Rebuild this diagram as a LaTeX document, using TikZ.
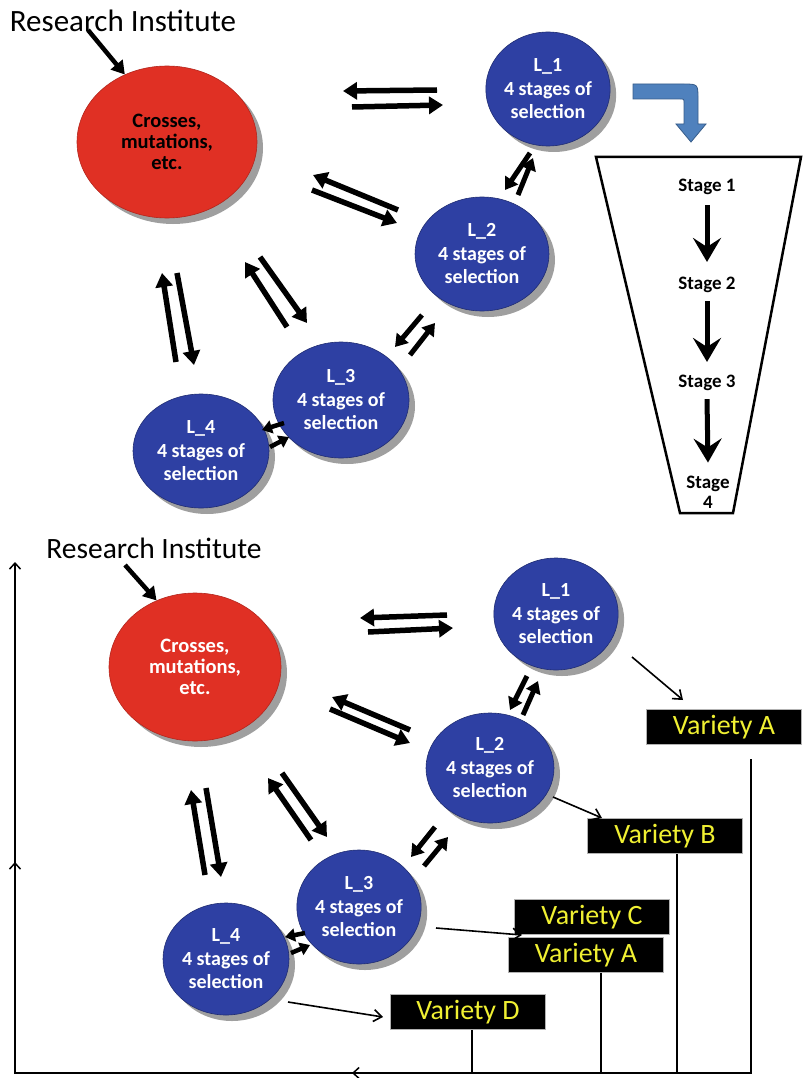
\documentclass[tikz,border=0pt]{standalone}
\usepackage{fontspec}
\setmainfont{Carlito}
\usetikzlibrary{arrows.meta,shapes.geometric,shadows}
\definecolor{redc}{RGB}{224,48,36}
\definecolor{bluec}{RGB}{46,64,163}
\definecolor{arrowblue}{RGB}{79,129,189}
\definecolor{arrowblueline}{RGB}{56,93,138}
\definecolor{yellowc}{RGB}{240,240,50}
\begin{document}
\begin{tikzpicture}[x=1pt,y=-1pt,
  circ/.style={ellipse, inner sep=0pt, align=center,
    drop shadow={shadow xshift=6pt,shadow yshift=-6pt,fill=gray!75,opacity=1}},
  bluecirc/.style={circ, fill=bluec, draw=bluec!70!black, line width=0.6pt, text=white,
    font=\bfseries\fontsize{20}{23.5}\selectfont},
  redcirc/.style={circ, fill=redc, draw=redc!80!black, line width=0.6pt,
    font=\bfseries\fontsize{20.5}{21}\selectfont},
  bigarrow/.style={line width=5.5pt, -{Triangle[length=14pt,width=17pt]}},
  smallarrow/.style={line width=5pt, -{Triangle[length=12pt,width=15pt]}},
  tinyarrow/.style={line width=4.5pt, -{Triangle[length=10pt,width=13pt]}},
  thinarrow/.style={line width=1.6pt, -{Straight Barb[length=8pt,width=12pt]}},
  axisline/.style={line width=1.5pt},
  axisarrow/.style={line width=1.5pt, -{Straight Barb[length=6pt,width=11pt]}},
  stagearrow/.style={line width=5pt, -{Stealth[length=24pt,width=28pt,inset=9pt]}},
  stagelabel/.style={font=\bfseries\fontsize{19}{20}\selectfont, align=center, inner sep=0pt},
  title/.style={inner sep=0pt, anchor=base},
  varbox/.style={fill=black, text=yellowc, font=\fontsize{28}{28}\selectfont,
    minimum width=155pt, minimum height=35pt, inner sep=0pt, draw=gray!60, line width=0.5pt}
]
\useasboundingbox (0,0) rectangle (803,1078);

% ================= TOP HALF =================
\node[title, font=\fontsize{31}{31}\selectfont] (rit) at (123,32) {Research Institute};
\node[redcirc, minimum width=180pt, minimum height=152pt] (redt) at (167,142) {Crosses,\\mutations,\\etc.};
\node[bluecirc, minimum width=124pt, minimum height=114pt] (l1t) at (548,89) {L\_1\\4 stages of\\selection};
\node[bluecirc, minimum width=134pt, minimum height=114pt] (l2t) at (482,254) {L\_2\\4 stages of\\selection};
\node[bluecirc, minimum width=136pt, minimum height=116pt] (l3t) at (341,400) {L\_3\\4 stages of\\selection};
\node[bluecirc, minimum width=136pt, minimum height=114pt] (l4t) at (201,451) {L\_4\\4 stages of\\selection};

\coordinate (rta) at (88,30);
\draw[line width=4.5pt, -{Triangle[length=13pt,width=15pt]}] (rta) -- (redt.122);

% pair arrows top
\coordinate (ta1) at (437,90);  \coordinate (ta2) at (343,91);
\coordinate (ta3) at (352,107); \coordinate (ta4) at (443,105);
\draw[bigarrow] (ta1) -- (ta2); \draw[bigarrow] (ta3) -- (ta4);
\coordinate (tb1) at (398,210); \coordinate (tb2) at (313,175);
\coordinate (tb3) at (312,190); \coordinate (tb4) at (397,223);
\draw[bigarrow] (tb1) -- (tb2); \draw[bigarrow] (tb3) -- (tb4);
\coordinate (tc1) at (530,153); \coordinate (tc2) at (505,190);
\coordinate (tc3) at (518,195); \coordinate (tc4) at (533,158);
\draw[smallarrow] (tc1) -- (tc2); \draw[smallarrow] (tc3) -- (tc4);
\coordinate (td1) at (422,315); \coordinate (td2) at (395,347);
\coordinate (td3) at (410,355); \coordinate (td4) at (435,323);
\draw[smallarrow] (td1) -- (td2); \draw[smallarrow] (td3) -- (td4);
\coordinate (te1) at (176,362); \coordinate (te2) at (162,273);
\coordinate (te3) at (177,273); \coordinate (te4) at (194,365);
\draw[bigarrow] (te1) -- (te2); \draw[bigarrow] (te3) -- (te4);
\coordinate (tf1) at (287,327); \coordinate (tf2) at (245,262);
\coordinate (tf3) at (260,257); \coordinate (tf4) at (307,323);
\draw[bigarrow] (tf1) -- (tf2); \draw[bigarrow] (tf3) -- (tf4);
\coordinate (tg1) at (284,423); \coordinate (tg2) at (262,430);
\coordinate (tg3) at (270,447); \coordinate (tg4) at (289,437);
\draw[tinyarrow] (tg1) -- (tg2);
\draw[tinyarrow] (tg3) -- (tg4);

% blue bent arrow
\filldraw[fill=arrowblue, draw=arrowblueline, line width=0.8pt]
  (633,84) -- (683,84) .. controls (698,84) .. (698,99) -- (698,124) -- (706,124)
  -- (691,142) -- (676,124) -- (684,124) -- (684,103) .. controls (684,99) .. (680,99)
  -- (633,99) -- cycle;

% funnel
\draw[line width=2.5pt, line join=miter] (596,157) -- (801,157) -- (733,513) -- (680,513) -- cycle;
\node[stagelabel] (s1) at (707,187) {Stage 1};
\node[stagelabel] (s2) at (707,285) {Stage 2};
\node[stagelabel] (s3) at (707,383) {Stage 3};
\node[stagelabel] (s4) at (708,492) {Stage\\4};
\draw[stagearrow] ([yshift=-10pt]s1.south) -- ([yshift=15pt]s2.north);
\draw[stagearrow] ([yshift=-8pt]s2.south) -- ([yshift=13pt]s3.north);
\draw[stagearrow] ([yshift=-8pt]s3.south) -- ([yshift=13pt]s4.north);

% ================= BOTTOM HALF =================
\node[title, font=\fontsize{29.5}{29.5}\selectfont] (rib) at (154,558) {Research Institute};
\node[redcirc, text=white, minimum width=172pt, minimum height=148pt] (redb) at (195,667) {Crosses,\\mutations,\\etc.};
\node[bluecirc, minimum width=124pt, minimum height=112pt] (l1b) at (556,614) {L\_1\\4 stages of\\selection};
\node[bluecirc, minimum width=128pt, minimum height=110pt] (l2b) at (490,768) {L\_2\\4 stages of\\selection};
\node[bluecirc, minimum width=124pt, minimum height=114pt] (l3b) at (359,907) {L\_3\\4 stages of\\selection};
\node[bluecirc, minimum width=126pt, minimum height=112pt] (l4b) at (226,959) {L\_4\\4 stages of\\selection};

\coordinate (rba) at (125,565);
\draw[line width=4.5pt, -{Triangle[length=13pt,width=15pt]}] (rba) -- (redb.120);

\coordinate (ba1) at (447,615); \coordinate (ba2) at (360,618);
\coordinate (ba3) at (368,632); \coordinate (ba4) at (453,628);
\draw[bigarrow] (ba1) -- (ba2); \draw[bigarrow] (ba3) -- (ba4);
\coordinate (bb1) at (410,730); \coordinate (bb2) at (332,697);
\coordinate (bb3) at (330,709); \coordinate (bb4) at (410,743);
\draw[bigarrow] (bb1) -- (bb2); \draw[bigarrow] (bb3) -- (bb4);
\coordinate (bc1) at (527,676); \coordinate (bc2) at (510,710);
\coordinate (bc3) at (523,715); \coordinate (bc4) at (538,681);
\draw[smallarrow] (bc1) -- (bc2); \draw[smallarrow] (bc3) -- (bc4);
\coordinate (bd1) at (435,827); \coordinate (bd2) at (411,857);
\coordinate (bd3) at (424,866); \coordinate (bd4) at (448,837);
\draw[smallarrow] (bd1) -- (bd2); \draw[smallarrow] (bd3) -- (bd4);
\coordinate (be1) at (205,875); \coordinate (be2) at (191,790);
\coordinate (be3) at (206,788); \coordinate (be4) at (221,877);
\draw[bigarrow] (be1) -- (be2); \draw[bigarrow] (be3) -- (be4);
\coordinate (bf1) at (311,840); \coordinate (bf2) at (268,778);
\coordinate (bf3) at (282,773); \coordinate (bf4) at (327,837);
\draw[bigarrow] (bf1) -- (bf2); \draw[bigarrow] (bf3) -- (bf4);
\coordinate (bg1) at (305,933); \coordinate (bg2) at (285,937);
\coordinate (bg3) at (291,953); \coordinate (bg4) at (310,945);
\draw[tinyarrow] (bg1) -- (bg2);
\draw[tinyarrow] (bg3) -- (bg4);

% variety boxes
\node[varbox] (va1) at (724,727) {Variety A};
\node[varbox] (vb) at (665,836) {Variety B};
\node[varbox] (vc) at (592,917) {Variety C};
\node[varbox] (va2) at (586,955) {Variety A};
\node[varbox] (vd) at (468,1012) {Variety D};

% thin arrows to boxes
\coordinate (h1) at (632,657); \coordinate (h1e) at (683,700);
\draw[thinarrow] (h1) -- (h1e);
\coordinate (h2) at (553,797); \coordinate (h2e) at (602,818);
\draw[thinarrow] (h2) -- (h2e);
\coordinate (h3) at (436,928); \coordinate (h3e) at (522,935);
\draw[thinarrow] (h3) -- (h3e);
\coordinate (h4) at (288,1002); \coordinate (h4e) at (383,1017);
\draw[thinarrow] (h4) -- (h4e);

% axes and drop lines
\coordinate (axc) at (15,1073);
\coordinate (axtop) at (15,562);
\coordinate (axmid) at (15,862);
\coordinate (axleft) at (352,1073);
\coordinate (xA) at (751,759);
\draw[axisline] (xA) -- (xA |- axc) -- (axleft);
\draw[axisarrow] ([xshift=1pt]axleft) -- (axleft);
\draw[axisline] (axleft) -- (axc) -- (axmid);
\draw[axisarrow] ([yshift=-1pt]axmid) -- (axmid);
\draw[axisarrow] (axmid) -- (axtop);
\draw[axisline] ([xshift=12pt]vb.south) -- ([xshift=12pt]vb.south |- axc);
\draw[axisline] ([xshift=15pt]va2.south) -- ([xshift=15pt]va2.south |- axc);
\draw[axisline] ([xshift=4pt]vd.south) -- ([xshift=4pt]vd.south |- axc);
\end{tikzpicture}
\end{document}
